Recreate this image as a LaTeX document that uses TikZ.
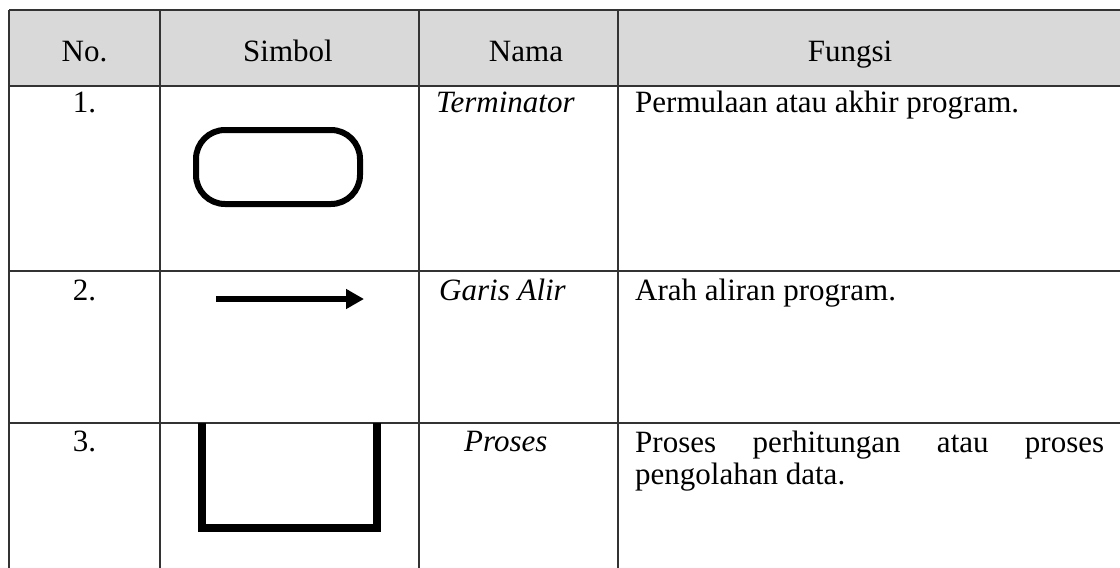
\documentclass[tikz,border=0pt]{standalone}
\usepackage{fontspec}
\setmainfont{Liberation Serif}
\usetikzlibrary{arrows.meta}
\begin{document}
\begin{tikzpicture}[x=1pt,y=-1pt,
  grid/.style={draw=black!80,line width=1.4pt},
  txt/.style={inner sep=0pt,font=\fontsize{31}{35}\selectfont},
  sym/.style={draw=black,line width=6pt},
]
\useasboundingbox (0,0) rectangle (1120,568);
% header fill
\fill[gray!30] (9,10) rectangle (1125,86);
% horizontal lines
\draw[grid] (9,10) -- (1125,10);
\draw[grid] (9,86) -- (1125,86);
\draw[grid] (9,271) -- (1125,271);
\draw[grid] (9,423) -- (1125,423);
% vertical lines
\foreach \x in {9,160,419,618} \draw[grid] (\x,10) -- (\x,575);
% header
\node[txt,anchor=base] (hno) at (84.5,61) {No.};
\node[txt,anchor=base] (hsim) at (288,61) {Simbol};
\node[txt,anchor=base] (hnam) at (526,61) {Nama};
\node[txt,anchor=base] (hfun) at (850,61) {Fungsi};
% row 1
\node[txt,anchor=base] (n1) at (84.5,112) {1.};
\node[txt,anchor=base west] (nm1) at (436,112) {\itshape Terminator};
\node[txt,anchor=base west] (f1) at (635,112) {Permulaan atau akhir program.};
\draw[sym,rounded corners=29pt] (196,130) rectangle (360,204);
% row 2
\node[txt,anchor=base] (n2) at (84.5,300) {2.};
\node[txt,anchor=base west] (nm2) at (439,300) {\itshape Garis Alir};
\node[txt,anchor=base west] (f2) at (635,300) {Arah aliran program.};
\coordinate (a1) at (216,299);
\coordinate (a2) at (364,299);
\draw[sym,-{Triangle[length=18pt,width=19pt]}] (a1) -- (a2);
% row 3
\node[txt,anchor=base] (n3) at (84.5,451) {3.};
\node[txt,anchor=base west] (nm3) at (464,451) {\itshape Proses};
\node[txt,anchor=base west] (f3) at (635,452) {\makebox[469pt][s]{Proses perhitungan atau proses}};
\node[txt,anchor=base west] (f3b) at (635,484) {pengolahan data.};
\draw[draw=black,line width=7.5pt,line cap=butt] (202,423) -- (202,528) -- (377,528) -- (377,423);
\end{tikzpicture}
\end{document}
